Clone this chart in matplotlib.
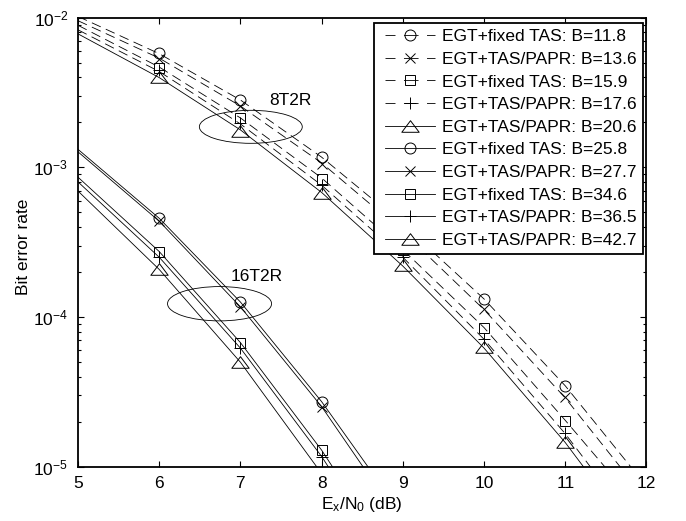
import matplotlib
matplotlib.use("Agg")
import matplotlib.pyplot as plt
from matplotlib.lines import Line2D
from matplotlib.patches import Ellipse
from matplotlib.path import Path
from matplotlib.legend_handler import HandlerLine2D
from matplotlib.ticker import LogLocator, NullFormatter, FixedLocator

plt.rcParams["font.family"] = ["Liberation Sans", "DejaVu Sans"]
plt.rcParams["mathtext.fontset"] = "custom"
plt.rcParams["mathtext.rm"] = "Liberation Sans"
plt.rcParams["mathtext.it"] = "Liberation Sans:italic"
plt.rcParams["mathtext.bf"] = "Liberation Sans:bold"
plt.rcParams["mathtext.default"] = "regular"
plt.rcParams["lines.scale_dashes"] = False

# ---------------- data ----------------
snr_curve_8 = [5, 6, 7, 8, 9, 10, 11, 12]
snr_sim_8 = [6, 7, 8, 9, 10, 11]
snr_curve_16 = [5, 6, 7, 8, 9]
snr_sim_16 = [6, 7, 8]

# 8T2R analytical curves
ber8_fixed_118 = [1.02e-2, 5.75e-3, 2.82e-3, 1.17e-3, 4.17e-4, 1.32e-4, 3.47e-5, 7.4e-6]
ber8_papr_136 = [9.55e-3, 5.37e-3, 2.57e-3, 1.07e-3, 3.72e-4, 1.12e-4, 2.88e-5, 6.0e-6]
ber8_fixed_159 = [8.9e-3, 4.68e-3, 2.14e-3, 8.5e-4, 2.82e-4, 8.5e-5, 2.04e-5, 4.7e-6]
ber8_papr_176 = [8.3e-3, 4.37e-3, 1.95e-3, 7.6e-4, 2.51e-4, 7.1e-5, 1.66e-5, 3.2e-6]
ber8_papr_206 = [7.8e-3, 3.98e-3, 1.78e-3, 6.8e-4, 2.19e-4, 6.2e-5, 1.45e-5, 2.75e-6]

# 8T2R simulated points
sim8_fixed_118 = [5.84e-3, 2.82e-3, 1.18e-3, 4.2e-4, 1.31e-4, 3.47e-5]
sim8_papr_136 = [5.3e-3, 2.57e-3, 1.06e-3, 3.7e-4, 1.13e-4, 2.91e-5]
sim8_fixed_159 = [4.63e-3, 2.13e-3, 8.36e-4, 2.8e-4, 8.4e-5, 2.02e-5]
sim8_papr_176 = [4.48e-3, 1.98e-3, 7.6e-4, 2.52e-4, 7.1e-5, 1.68e-5]
sim8_papr_206 = [4.0e-3, 1.76e-3, 6.78e-4, 2.23e-4, 6.3e-5, 1.46e-5]

# 16T2R analytical curves
ber16_fixed_258 = [1.32e-3, 4.57e-4, 1.26e-4, 2.72e-5, 4.7e-6]
ber16_papr_277 = [1.27e-3, 4.37e-4, 1.17e-4, 2.52e-5, 4.1e-6]
ber16_fixed_346 = [8.6e-4, 2.74e-4, 6.75e-5, 1.29e-5, 1.9e-6]
ber16_papr_365 = [8.0e-4, 2.51e-4, 6.2e-5, 1.17e-5, 1.7e-6]
ber16_papr_427 = [6.95e-4, 2.08e-4, 4.99e-5, 9.0e-6, 1.26e-6]

# 16T2R simulated points
sim16_fixed_258 = [4.57e-4, 1.26e-4, 2.72e-5]
sim16_papr_277 = [4.37e-4, 1.17e-4, 2.52e-5]
sim16_fixed_346 = [2.74e-4, 6.74e-5, 1.30e-5]
sim16_papr_365 = [2.5e-4, 6.2e-5, 1.17e-5]
sim16_papr_427 = [2.08e-4, 5.0e-5, 9.0e-6]

labels = [
    "EGT+fixed TAS: B=11.8",
    "EGT+TAS/PAPR: B=13.6",
    "EGT+fixed TAS: B=15.9",
    "EGT+TAS/PAPR: B=17.6",
    "EGT+TAS/PAPR: B=20.6",
    "EGT+fixed TAS: B=25.8",
    "EGT+TAS/PAPR: B=27.7",
    "EGT+fixed TAS: B=34.6",
    "EGT+TAS/PAPR: B=36.5",
    "EGT+TAS/PAPR: B=42.7",
]
x_ticks = [5, 6, 7, 8, 9, 10, 11, 12]

# ---------------- styles ----------------
wide_tri = Path([(0, 1.0), (-1.5, -1.0), (1.5, -1.0), (0, 1.0)],
                [Path.MOVETO, Path.LINETO, Path.LINETO, Path.CLOSEPOLY])
marker_style = {
    "o": dict(marker="o", ms=7.9),
    "x": dict(marker="x", ms=6.8),
    "s": dict(marker="s", ms=7.5),
    "+": dict(marker="+", ms=8.6),
    "^": dict(marker=wide_tri, ms=12.5),
}
curve_dash = (0, (7, 4))
legend_dash = (0, (7.2, 6.1, 10.5, 6.1, 7.2, 72))
LW = 0.6

fig = plt.figure(figsize=(6.86, 5.21), dpi=100)
ax = fig.add_axes([0.1137, 0.1042, 0.8287, 0.8618])

series = [
    (snr_curve_8, ber8_fixed_118, snr_sim_8, sim8_fixed_118, "o", curve_dash, legend_dash),
    (snr_curve_8, ber8_papr_136, snr_sim_8, sim8_papr_136, "x", curve_dash, legend_dash),
    (snr_curve_8, ber8_fixed_159, snr_sim_8, sim8_fixed_159, "s", curve_dash, legend_dash),
    (snr_curve_8, ber8_papr_176, snr_sim_8, sim8_papr_176, "+", curve_dash, legend_dash),
    (snr_curve_8, ber8_papr_206, snr_sim_8, sim8_papr_206, "^", "-", "-"),
    (snr_curve_16, ber16_fixed_258, snr_sim_16, sim16_fixed_258, "o", "-", "-"),
    (snr_curve_16, ber16_papr_277, snr_sim_16, sim16_papr_277, "x", "-", "-"),
    (snr_curve_16, ber16_fixed_346, snr_sim_16, sim16_fixed_346, "s", "-", "-"),
    (snr_curve_16, ber16_papr_365, snr_sim_16, sim16_papr_365, "+", "-", "-"),
    (snr_curve_16, ber16_papr_427, snr_sim_16, sim16_papr_427, "^", "-", "-"),
]

handles = []
for (xc, yc, xs, ys, mk, ls, lls), lab in zip(series, labels):
    ax.plot(xc, yc, color="black", lw=LW, linestyle=ls)
    ax.plot(xs, ys, linestyle="none", color="black", mfc="none", mec="black",
            mew=LW + 0.1, **marker_style[mk])
    handles.append(Line2D([], [], color="black", lw=LW, linestyle=lls, mfc="none",
                          mec="black", mew=LW + 0.1, label=lab, **marker_style[mk]))

ax.set_yscale("log")
ax.set_xlim(5, 12)
ax.set_ylim(1e-5, 1e-2)
ax.xaxis.set_major_locator(FixedLocator(x_ticks))
ax.yaxis.set_major_locator(LogLocator(base=10, numticks=10))
ax.yaxis.set_minor_locator(LogLocator(base=10, subs=range(2, 10), numticks=20))
ax.yaxis.set_minor_formatter(NullFormatter())

for sp in ax.spines.values():
    sp.set_linewidth(1.3)
ax.tick_params(which="both", direction="in", top=True, right=True, width=0.8,
               labelsize=12.5, colors="black")
ax.tick_params(which="major", length=4.2)
ax.tick_params(which="minor", length=2.2)
ax.tick_params(axis="x", pad=6.5)
ax.tick_params(axis="y", pad=7)

ax.set_xlabel(r"$\mathregular{E_x/N_0}$ (dB)", fontsize=12.5)
ax.set_ylabel("Bit error rate", fontsize=12.5)
ax.xaxis.set_label_coords(0.5, -0.062)
ax.yaxis.set_label_coords(-0.082, 0.49)

# group markers
ax.add_patch(Ellipse((0.304, 0.757), 0.181, 0.0735, transform=ax.transAxes,
                     fill=False, lw=LW, ec="black"))
ax.add_patch(Ellipse((0.249, 0.363), 0.183, 0.0764, transform=ax.transAxes,
                     fill=False, lw=LW, ec="black"))
ax.text(0.336, 0.815, "8T2R", transform=ax.transAxes, fontsize=12.5,
        ha="left", va="center")
ax.text(0.2686, 0.4232, "16T2R", transform=ax.transAxes, fontsize=12.5,
        ha="left", va="center")

leg = ax.legend(handles=handles, loc="upper right", bbox_to_anchor=(0.9933, 0.9889),
                borderaxespad=0, fontsize=12.5, frameon=True, fancybox=False,
                framealpha=1, edgecolor="black", borderpad=0.37, labelspacing=0.43,
                handlelength=3.14, handletextpad=0.39,
                handler_map={h: HandlerLine2D(xpad=0.265) for h in handles})
leg.get_frame().set_linewidth(1.3)
leg.set_zorder(10)

fig.savefig("out.png", dpi=100, facecolor="white")
